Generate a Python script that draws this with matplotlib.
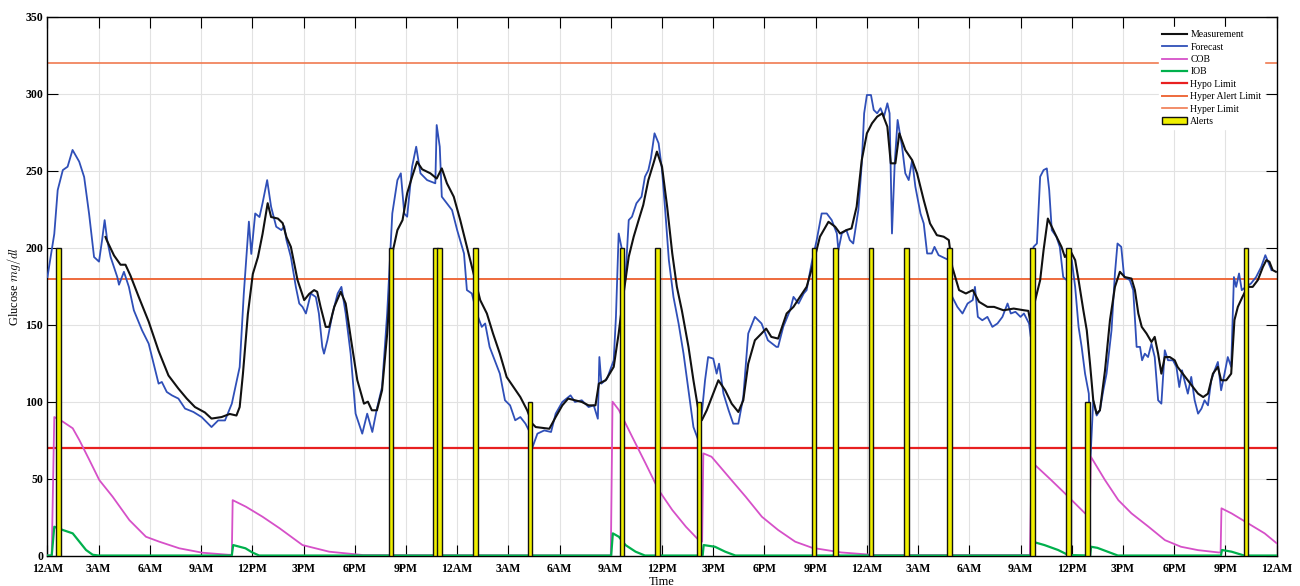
import matplotlib
matplotlib.use("Agg")
import matplotlib.pyplot as plt

plt.rcParams["font.family"] = ["Liberation Serif", "DejaVu Serif"]
plt.rcParams["mathtext.fontset"] = "cm"

# hours since first midnight
meas_t = [3.4, 3.47, 3.9, 4.28, 4.57, 4.86, 5.35, 5.93, 6.51, 7.09, 7.67, 8.16, 8.64, 9.22,
          9.61, 10.2, 10.68, 11.07, 11.26, 11.45, 11.74, 12.03, 12.33, 12.6, 12.9, 13.1, 13.5,
          13.78, 14.0, 14.26, 14.65, 15.04, 15.33, 15.62, 15.8, 16.0, 16.3, 16.5, 16.8, 17.18,
          17.47, 17.76, 18.15, 18.54, 18.77, 19.0, 19.3, 19.6, 19.9, 20.2, 20.5, 20.8, 21.07,
          21.36, 21.65, 21.95, 22.43, 22.8, 23.1, 23.4, 23.8, 24.18, 24.57, 24.96, 25.35, 25.74,
          26.1, 26.5, 26.9, 27.3, 27.7, 28.1, 28.4, 28.6, 29.4, 29.77, 30.16, 30.5, 30.9, 31.3,
          31.7, 32.1, 32.3, 32.7, 33.17, 33.46, 33.75, 34.05, 34.34, 34.63, 34.9, 35.2, 35.5,
          35.7, 36.0, 36.3, 36.6, 36.87, 37.16, 37.55, 37.84, 38.13, 38.33, 38.62, 39.0, 39.3,
          39.7, 40.08, 40.47, 40.76, 41.05, 41.44, 41.83, 42.1, 42.4, 42.8, 42.9, 43.3, 43.7,
          44.08, 44.47, 44.86, 45.25, 45.75, 46.14, 46.43, 46.8, 47.1, 47.4, 47.7, 48.0, 48.3,
          48.6, 48.9, 49.2, 49.4, 49.67, 49.9, 50.25, 50.65, 50.94, 51.33, 51.7, 52.1, 52.5,
          52.8, 53.0, 53.4, 53.8, 54.2, 54.57, 55.06, 55.45, 56.0, 56.6, 57.2, 57.46, 57.6,
          57.86, 58.15, 58.35, 58.6, 59.03, 59.4, 59.6, 59.9, 60.2, 60.4, 60.68, 60.88, 61.07,
          61.26, 61.46, 61.65, 61.95, 62.24, 62.53, 62.82, 63.1, 63.5, 63.7, 63.9, 64.1, 64.38,
          64.67, 64.86, 65.06, 65.25, 65.45, 65.74, 66.03, 66.2, 66.5, 66.8, 67.1, 67.4, 67.7,
          67.98, 68.27, 68.56, 68.75, 69.05, 69.34, 69.53, 69.73, 70.0, 70.3, 70.6, 70.9, 71.2,
          71.4, 71.58, 71.77, 71.96]
meas_v = [207, 205, 195, 189, 189, 182, 168, 152, 133, 117, 108.5, 102, 96.5, 93,
          89, 90, 92, 91, 96.5, 118, 157, 183, 194, 209, 229, 220, 219,
          216, 207, 200.6, 179, 166, 170, 172.5, 171.4, 161.6, 148.6, 148.6, 161.6, 171.4,
          163.8, 142, 114, 98.7, 100, 94.4, 94.4, 107.4, 144, 196.3, 211.5, 218, 235.4,
          246.2, 256, 251, 248.4, 245, 251.6, 241.9, 233.2, 218, 200.6, 183.3, 166, 157.3,
          144.3, 131.2, 116, 109.5, 103, 94.4, 85.7, 83.5, 82.4, 90, 97.6, 102, 100.9, 99.8,
          97.6, 97.6, 111.7, 113.9, 122.6, 144.3, 170.3, 194.2, 207.2, 218, 227.8, 244, 254.9,
          262.5, 252.7, 226.7, 196.3, 174.6, 159.4, 135.6, 113.9, 94.4, 87.9, 94.4, 105.2, 113.9,
          107.4, 98.7, 93.3, 100.9, 124.7, 139.9, 144.3, 147.5, 142.1, 141, 144.3, 157.3, 161.6,
          168.1, 174.6, 189.8, 207.2, 216.9, 213.7, 209.3, 211.5, 212.6, 226.7, 257, 274.4, 280.9,
          285.2, 287.4, 278.7, 254.9, 254.9, 274.4, 263.6, 257, 248.4, 231, 215.8, 208.2, 207.2,
          205, 187.6, 172.5, 170.3, 172.5, 164.9, 161.6, 161.6, 159.4, 160.5, 159.4, 159, 150,
          166, 179, 198.5, 219, 209, 200.6, 194, 198.5, 192, 179, 159.4, 146.4, 124.7,
          100.9, 92.2, 94.4, 120.4, 153, 174.6, 184.4, 181, 180, 172.5, 157.3, 148.6, 144.3,
          138.8, 142.1, 131.2, 118.2, 129, 129, 126.9, 122.6, 118.2, 113.9, 109.5, 105.2, 103,
          105.2, 118.2, 122.6, 113.9, 113.9, 118.2, 153, 161.6, 168.1, 174.6, 174.6, 179, 187.6,
          192, 190.9, 185.5, 184.4]

fc_t = [0, 0.4, 0.6, 0.9, 1.18, 1.47, 1.86, 2.15, 2.44, 2.73, 3.02, 3.2, 3.35, 3.5, 3.7, 4.09,
        4.19, 4.48, 4.77, 5.06, 5.54, 5.93, 6.32, 6.51, 6.7, 6.99, 7.29, 7.67, 8.06, 8.55, 9.03,
        9.61, 10.0, 10.4, 10.8, 11.07, 11.26, 11.5, 11.8, 11.94, 12.17, 12.42, 12.6, 12.87, 13.1,
        13.4, 13.7, 13.87, 14.0, 14.26, 14.55, 14.75, 14.94, 15.14, 15.43, 15.72, 15.9, 16.1,
        16.2, 16.4, 16.7, 17.0, 17.22, 17.47, 17.76, 18.05, 18.44, 18.73, 19.03, 19.3, 19.6,
        19.9, 20.2, 20.5, 20.7, 20.9, 21.07, 21.36, 21.6, 21.85, 22.24, 22.72, 22.8, 22.98, 23.1,
        23.4, 23.7, 24.0, 24.4, 24.57, 24.86, 25.15, 25.44, 25.64, 25.9, 26.2, 26.5, 26.8, 27.1,
        27.4, 27.7, 28.0, 28.3, 28.4, 28.7, 29.1, 29.5, 29.77, 30.16, 30.64, 30.9, 31.3, 31.7,
        32.0, 32.24, 32.33, 32.45, 32.78, 33.17, 33.3, 33.46, 33.66, 33.85, 34.05, 34.24, 34.5,
        34.8, 35.0, 35.2, 35.35, 35.56, 35.8, 36.0, 36.2, 36.4, 36.67, 36.97, 37.26, 37.55,
        37.84, 38.13, 38.33, 38.52, 38.7, 39.0, 39.2, 39.34, 39.6, 39.9, 40.17, 40.47, 40.76,
        41.05, 41.44, 41.83, 42.2, 42.7, 42.8, 43.1, 43.5, 43.7, 44.0, 44.3, 44.47, 44.76, 45.06,
        45.35, 45.65, 45.94, 46.24, 46.33, 46.53, 46.8, 47.0, 47.2, 47.5, 47.7, 47.84, 48.0,
        48.24, 48.4, 48.6, 48.8, 49.0, 49.2, 49.33, 49.47, 49.63, 49.8, 50.06, 50.25, 50.45,
        50.65, 50.84, 51.14, 51.33, 51.53, 51.8, 51.96, 52.2, 52.8, 53.0, 53.3, 53.6, 53.9, 54.2,
        54.33, 54.5, 54.76, 55.06, 55.35, 55.65, 55.94, 56.24, 56.43, 56.7, 57.0, 57.2, 57.5,
        57.6, 57.76, 57.96, 58.15, 58.35, 58.54, 58.68, 58.83, 59.1, 59.3, 59.5, 59.7, 60.0,
        60.2, 60.4, 60.58, 60.78, 61.0, 61.1, 61.26, 61.46, 61.65, 61.85, 62.04, 62.33, 62.53,
        62.68, 62.9, 63.07, 63.4, 63.6, 63.8, 64.0, 64.12, 64.28, 64.47, 64.67, 64.86, 65.06,
        65.25, 65.45, 65.64, 65.93, 66.13, 66.3, 66.46, 66.6, 66.8, 67.0, 67.2, 67.4, 67.6,
        67.78, 67.98, 68.17, 68.37, 68.56, 68.75, 68.95, 69.14, 69.34, 69.5, 69.63, 69.8, 69.96,
        70.2, 70.5, 70.8, 71.1, 71.34, 71.5, 71.7]
fc_v = [181, 209, 237.5, 250.5, 252.7, 263.6, 256, 246, 222, 194, 191, 205, 218, 205, 194, 181,
        176, 184.4, 174.6, 159.4, 146.4, 137.7, 120.4, 111.7, 112.8, 106.3, 104.1, 102, 95.5, 93.3, 90,
        83.5, 87.8, 87.8, 98.7, 112.8, 122.5, 170, 217, 196, 222.3, 220, 229, 244, 226.7,
        213.7, 211.5, 214, 205, 194, 174.6, 163.8, 161.6, 157.3, 170.3, 168, 157.3, 135.6,
        131.2, 140, 157.3, 170.3, 174.6, 157.3, 131.2, 92.2, 79.2, 92.2, 80.3, 95.5, 109.5,
        157.3, 222.3, 244, 248.4, 222.3, 220.2, 252.7, 265.7, 248.4, 244, 241.9, 279.8, 265.7, 233.2,
        228.9, 224.5, 211.5, 196.3, 172.5, 170.3, 157.3, 148.6, 150.8, 135.6, 126.9, 118.2, 100.9, 97.6,
        87.9, 90, 85.7, 79.2, 70, 79.2, 81.3, 80.3, 92.2, 99.8, 104.1, 99.8, 100.9, 96.5,
        97.6, 88.9, 129, 111.7, 115, 126.9, 155, 209.3, 198.5, 179, 218, 220.2, 228.9,
        233.2, 246.2, 250.5, 258.1, 274.4, 267.9, 250.5, 222.3, 192, 168.1, 150.8, 131.2, 107.4,
        83.5, 74.8, 92.2, 113.9, 129, 128, 118.2, 124.7, 105.2, 94.4, 85.7, 85.7, 103,
        144.3, 155.1, 150.8, 139.9, 135.6, 135.6, 148.6, 159.4, 168.1, 163.8, 170.3, 172.5, 189.8, 205,
        222.3, 222.3, 218, 209.3, 198.5, 209.3, 211.5, 205, 202.8, 224.5, 254.9, 287.4, 299.3,
        299.3, 289.6, 287.4, 290.7, 285.2, 293.9, 287.4, 209.3, 254.9, 283.1, 265.7, 248.4, 244,
        257, 239.7, 222.3, 215.8, 196.3, 196.3, 200.6, 195.2, 192, 168.1, 161.6, 157.3, 163.8, 166,
        174.6, 155.1, 152.9, 155.1, 148.6, 150.8, 155.1, 163.8, 157.3, 158.4, 155.1, 157.3, 150.8,
        142.1, 200.6, 202.8, 246.2, 250.5, 251.6, 237.5, 211.5, 207.2, 200.6, 181, 179, 192,
        174.6, 148.6, 135.6, 118.2, 105.2, 64, 100.9, 91, 94.4, 107.4, 118.2, 146.4, 183.3,
        202.8, 200.6, 181, 179, 172.5, 135.6, 135.6, 126.9, 131.2, 129, 137.7, 129, 100.9,
        98.7, 133.4, 126.9, 126.9, 122.6, 109.5, 120.4, 113.9, 105.2, 116.1, 100.9, 92.2, 95.5,
        100.9, 97.6, 113.9, 120.4, 125.8, 107.4, 118.2, 129, 122.6, 181, 174.6, 183.3, 172.5,
        174.6, 176.8, 181, 187.6, 195.2, 190.9, 185.5]

cob_t = [0, 0.25, 0.4, 0.9, 1.48, 1.87, 2.46, 3.04, 3.82, 4.8, 5.77, 6.55, 7.72, 9.09, 10.6,
         10.8, 10.85, 11.63, 12.6, 13.6, 14.94, 16.5, 18.5, 33.0, 33.1, 33.47, 34.25, 35.03,
         35.8, 36.6, 37.4, 38.15, 38.35, 38.42, 38.9, 39.9, 40.9, 41.85, 42.8, 43.8, 44.8, 46.5,
         48.5, 57.55, 57.65, 57.85, 58.8, 59.6, 60.78, 61.05, 61.12, 61.95, 62.73, 63.5, 64.5,
         65.46, 66.4, 67.4, 68.6, 68.72, 68.77, 69.36, 70.33, 71.3, 72]
cob_v = [0, 0, 90, 87, 82.7, 75, 62, 49, 38.2, 23, 12.2, 9, 4.7, 1.8, 0.5,
         0.5, 36, 31.7, 25.2, 17.7, 6.8, 2.5, 0.3, 0, 100, 94.6, 77.2, 60,
         42.6, 29.6, 18.7, 10, 9, 66.4, 64.2, 51.2, 38.2, 25.2, 16.6, 9, 5, 2,
         0.3, 0.3, 60, 58.8, 49, 40.4, 27.4, 26, 64.2, 49, 36, 27.4, 18.7,
         10, 5.7, 3.5, 2, 2, 30.7, 27.4, 20.9, 14.4, 8]

iob_t = [0, 0.25, 0.4, 0.9, 1.48, 1.87, 2.26, 2.65, 3.0, 10.8, 10.88, 11.6, 12.0, 12.4,
         33.02, 33.12, 33.47, 33.86, 34.45, 35.0, 38.38, 38.44, 39.1, 39.7, 40.3,
         57.6, 57.7, 58.4, 59.2, 59.8, 61.08, 61.13, 61.5, 62.1, 62.7,
         68.74, 68.8, 69.36, 70.1, 72]
iob_v = [0, 0, 18.7, 16.6, 14.4, 9, 3.6, 0.5, 0, 0, 6.8, 4.7, 2, 0,
         0, 14.4, 12.2, 6.8, 2.5, 0, 0, 6.8, 5.7, 2.5, 0,
         0, 9, 6.8, 3.6, 0.3, 0, 5.7, 5, 2.5, 0,
         0, 3.6, 2.5, 0, 0]

hypo_limit = 70
hyper_alert_limit = 180
hyper_limit = 320

alert_t = [0.64, 20.13, 22.73, 22.97, 25.08, 28.26, 33.66, 35.72, 38.16, 44.9, 46.15, 48.25,
           50.31, 52.84, 57.7, 59.8, 60.92, 70.2]
alert_h = [200, 200, 200, 200, 200, 100, 200, 200, 100, 200, 200, 200,
           200, 200, 200, 200, 100, 200]

tick_labels = ["12AM", "3AM", "6AM", "9AM", "12PM", "3PM", "6PM", "9PM"] * 3 + ["12AM"]

fig = plt.figure(figsize=(13, 5.86), dpi=100)
ax = fig.add_axes([0.0365, 0.052, 0.9455, 0.919])

ax.plot(meas_t, meas_v, color="#111111", lw=1.5, zorder=4, label="Measurement")
ax.plot(fc_t, fc_v, color="#2f4fb8", lw=1.3, zorder=3, label="Forecast")
ax.plot(cob_t, cob_v, color="#d650c8", lw=1.3, zorder=3, label="COB")
ax.plot(iob_t, iob_v, color="#00b04c", lw=1.6, zorder=3, label="IOB")
ax.axhline(hypo_limit, color="#e82020", lw=1.6, zorder=2, label="Hypo Limit")
ax.axhline(hyper_alert_limit, color="#ee6a3c", lw=1.4, zorder=2, label="Hyper Alert Limit")
ax.axhline(hyper_limit, color="#f07a50", lw=1.2, zorder=2, label="Hyper Limit")
ax.bar(alert_t, alert_h, width=0.27, color="#f0f000", edgecolor="#111111", lw=1.0,
       zorder=5, label="Alerts")

ax.set_xlim(0, 72)
ax.set_ylim(0, 350)
ax.set_xticks(range(0, 73, 3))
ax.set_xticklabels(tick_labels, fontweight="bold", fontsize=8.5)
ax.set_yticks(range(0, 351, 50))
ax.set_yticklabels([str(v) for v in range(0, 351, 50)], fontweight="bold", fontsize=8.5)
ax.tick_params(direction="in", length=8, width=0.8, top=True, right=True)
ax.tick_params(axis="x", pad=5.5)
ax.tick_params(axis="y", pad=3)
ax.grid(True, color="#e2e2e2", lw=0.8, zorder=0)
ax.set_axisbelow(True)
for s in ax.spines.values():
    s.set_linewidth(1.0)

ax.set_ylabel(r"Glucose $mg/dl$", fontsize=9, labelpad=2)
ax.set_xlabel("Time", fontsize=9)
ax.xaxis.set_label_coords(0.5, -0.05)
ax.xaxis.label.set_verticalalignment("center")

leg = ax.legend(loc="upper right", bbox_to_anchor=(0.994, 0.99), fontsize=7, frameon=True,
                fancybox=False, edgecolor="white", framealpha=1, handlelength=2.6,
                handletextpad=0.3, labelspacing=0.35, borderpad=0.3)
leg.set_zorder(10)

fig.savefig("out.png", dpi=100)
